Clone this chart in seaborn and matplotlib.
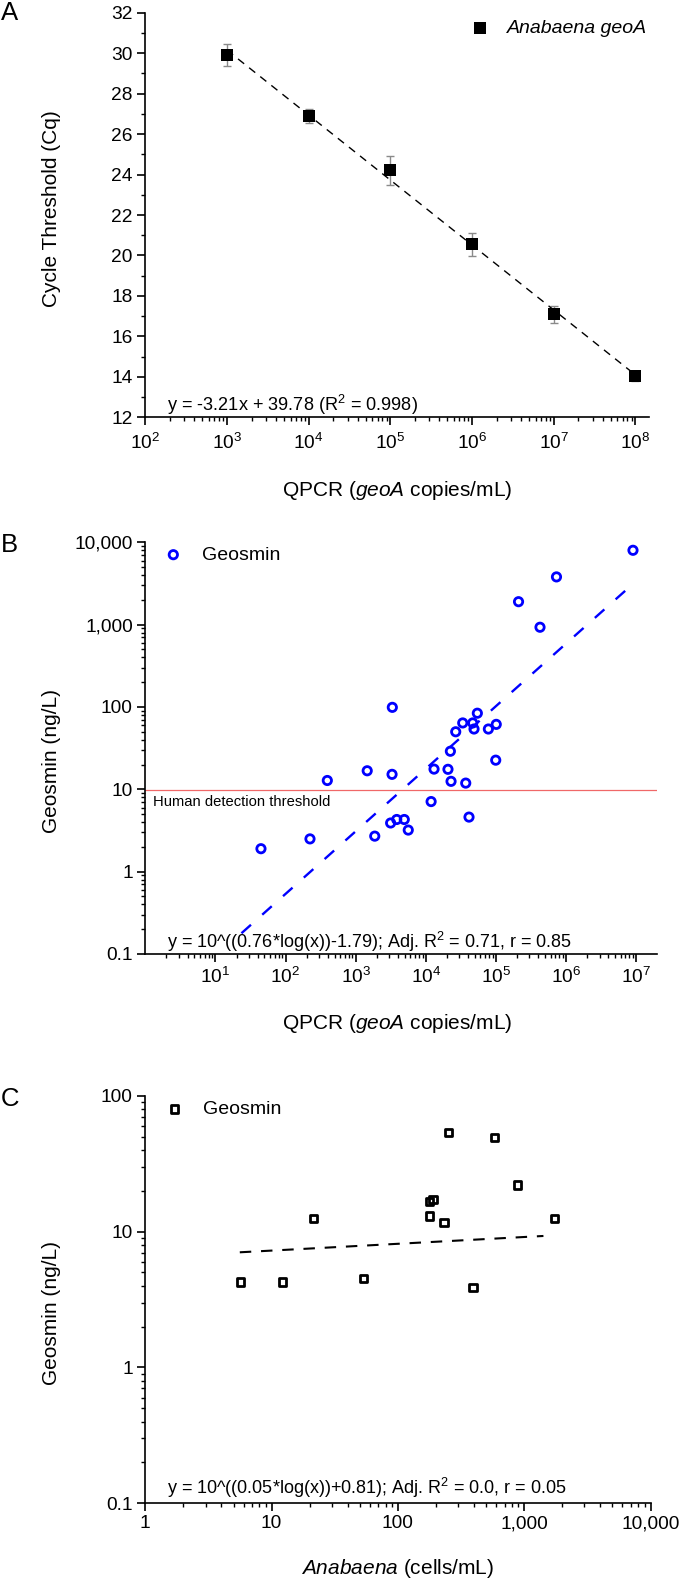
import numpy as np
import pandas as pd
import matplotlib
matplotlib.use("Agg")
import matplotlib.pyplot as plt
import matplotlib.ticker as mticker
import seaborn as sns

# ---------------- data ----------------
# Panel A: standard curve
a_copies = [1e3, 1e4, 1e5, 1e6, 1e7, 1e8]
a_cq = [29.9, 26.9, 24.2, 20.55, 17.1, 14.05]
a_err = [0.55, 0.35, 0.72, 0.58, 0.42, 0.25]
a_slope, a_intercept = -3.21, 39.78
a_fit_range = [1e3, 1e8]

# Panel B: geosmin vs qPCR geoA copies
b_qpcr = [9.0e6, 7.3e5, 2.1e5, 4.25e5, 3330, 394, 1460, 3300, 13100, 20700,
          22900, 37100, 22400, 26700, 33600, 46700, 48700, 54300, 78000, 101000,
          99300, 11900, 41300, 44.6, 223, 1870, 3150, 3850, 4930, 5620]
b_geosmin = [8000, 3800, 1900, 930, 99, 12.8, 16.8, 15.2, 17.6, 17.5,
             12.5, 11.9, 29, 50, 64, 64, 54, 84, 54, 61.5,
             22.6, 7.1, 4.6, 1.9, 2.5, 2.7, 3.9, 4.3, 4.3, 3.2]
b_slope, b_intercept = 0.76, -1.79
b_fit_range = [23.5, 7.5e6]
threshold = 9.7

# Panel C: geosmin vs Anabaena cell counts
c_cells = [5.7, 12.2, 21.5, 53.3, 177, 190, 177, 232, 251, 394, 585, 889, 1730]
c_geosmin = [4.26, 4.26, 12.5, 4.49, 16.6, 17.3, 13.0, 11.7, 53.5, 3.87, 49.4, 22.0, 12.5]
c_slope, c_intercept = 0.05, 0.81
c_fit_range = [5.6, 1420]

# ---------------- style ----------------
sns.set_theme(style="ticks")
plt.rcParams.update({
    "font.family": ["Liberation Sans", "DejaVu Sans"],
    "mathtext.fontset": "custom",
    "mathtext.rm": "Liberation Sans",
    "mathtext.it": "Liberation Sans:italic",
    "mathtext.bf": "Liberation Sans:bold",
    "axes.edgecolor": "black",
    "axes.linewidth": 1.2,
    "text.color": "black",
    "axes.labelcolor": "black",
    "xtick.color": "black",
    "ytick.color": "black",
})

W, H = 680, 1581
fig = plt.figure(figsize=(W / 100, H / 100), dpi=100)
fig.patch.set_facecolor("white")


def px_axes(left, top, right, bottom):
    return fig.add_axes([left / W, 1 - bottom / H, (right - left) / W, (bottom - top) / H])


def style(ax, xpad=4.0):
    sns.despine(ax=ax)
    ax.set_facecolor("white")
    for s in ["left", "bottom"]:
        ax.spines[s].set_linewidth(1.2)
        ax.spines[s].set_color("black")
    ax.tick_params(which="major", direction="out", length=5.5, width=1.2, labelsize=13.8)
    ax.tick_params(which="minor", direction="out", length=3.0, width=1.0)
    ax.tick_params(axis="y", which="major", pad=3.5)
    ax.tick_params(axis="x", which="major", pad=xpad)


def comma_fmt(v, pos):
    return f"{v:,.0f}" if v >= 1 else f"{v:g}"


def place_legend(ax, left_px, cy_px, pad, italic=False):
    prop = {"size": 14}
    if italic:
        prop["style"] = "italic"
    ax.legend(loc="center left", bbox_to_anchor=(left_px / W, 1 - cy_px / H),
              bbox_transform=fig.transFigure, frameon=False, borderpad=0,
              borderaxespad=0, handlelength=1.0, handletextpad=pad, prop=prop,
              scatterpoints=1)


# ---------------- Panel A ----------------
axA = px_axes(145.3, 12.7, 649.2, 417.3)
axA.set_xscale("log")
axA.errorbar(a_copies, a_cq, yerr=a_err, fmt="none", ecolor="#8a8a8a",
             elinewidth=1.0, capsize=3.2, capthick=1.0, zorder=2)
fa_x = np.array(a_fit_range)
fa_y = a_slope * np.log10(fa_x) + a_intercept
sns.lineplot(x=fa_x, y=fa_y, ax=axA, color="black", linewidth=1.0,
             linestyle=(0, (5.6, 4.6)), sort=False, zorder=3)
sns.scatterplot(x=a_copies, y=a_cq, ax=axA, marker="s", s=72, color="black",
                edgecolor="black", linewidth=0, label="Anabaena geoA", zorder=4)
axA.set_xlim(1e2, 10 ** 8.17)
axA.set_ylim(12, 32)
axA.xaxis.set_major_locator(mticker.LogLocator(base=10, numticks=20))
axA.xaxis.set_minor_locator(mticker.LogLocator(base=10, subs=np.arange(2, 10), numticks=100))
axA.xaxis.set_minor_formatter(mticker.NullFormatter())
axA.yaxis.set_major_locator(mticker.MultipleLocator(2))
axA.yaxis.set_minor_locator(mticker.MultipleLocator(1))
style(axA, xpad=6.0)
axA.set_xlabel("QPCR ($\\mathit{geoA}$ copies/mL)", fontsize=15)
axA.set_ylabel("Cycle Threshold (Cq)", fontsize=15)
axA.xaxis.set_label_coords(0.499, -0.153)
axA.yaxis.set_label_coords((61 - 145.3) / 503.9, (417.3 - 209) / 404.6)
axA.text(0.043, 0.0163, "y = -3.21x + 39.78 (R$^2$ = 0.998)", transform=axA.transAxes,
         fontsize=13.1, va="baseline", ha="left")
place_legend(axA, 470.3, 28, 0.89, italic=True)

# ---------------- Panel B ----------------
axB = px_axes(145.3, 542.3, 657, 954)
axB.set_xscale("log")
axB.set_yscale("log")
axB.axhline(threshold, color="#f06868", linewidth=0.9, zorder=1)
fb_x = np.array(b_fit_range)
fb_y = 10 ** (b_slope * np.log10(fb_x) + b_intercept)
sns.lineplot(x=fb_x, y=fb_y, ax=axB, color="#0000ff", linewidth=1.7,
             linestyle=(0, (5.4, 6.4)), sort=False, zorder=2)
sns.scatterplot(x=b_qpcr, y=b_geosmin, ax=axB, marker="o", s=36,
                facecolor="none", edgecolor="#0000ff", linewidth=2.0,
                label="Geosmin", zorder=3)
axB.set_xlim(1, 1.98e7)
axB.set_ylim(0.1, 1e4)
axB.xaxis.set_major_locator(mticker.FixedLocator([1e1, 1e2, 1e3, 1e4, 1e5, 1e6, 1e7]))
axB.xaxis.set_major_formatter(mticker.LogFormatterSciNotation())
axB.xaxis.set_minor_locator(mticker.LogLocator(base=10, subs=np.arange(2, 10), numticks=100))
axB.xaxis.set_minor_formatter(mticker.NullFormatter())
axB.yaxis.set_major_locator(mticker.FixedLocator([0.1, 1, 10, 100, 1000, 10000]))
axB.yaxis.set_major_formatter(mticker.FuncFormatter(comma_fmt))
axB.yaxis.set_minor_locator(mticker.LogLocator(base=10, subs=np.arange(2, 10), numticks=100))
axB.yaxis.set_minor_formatter(mticker.NullFormatter())
style(axB, xpad=3.5)
axB.set_xlabel("QPCR ($\\mathit{geoA}$ copies/mL)", fontsize=15)
axB.set_ylabel("Geosmin (ng/L)", fontsize=15)
axB.xaxis.set_label_coords(0.4915, -0.140)
axB.yaxis.set_label_coords((61 - 145.3) / 511.7, 0.4676)
axB.text(0.0156, 0.3595, "Human detection threshold", transform=axB.transAxes,
         fontsize=10.6, va="baseline", ha="left")
axB.text(0.0424, 0.0138, "y = 10^((0.76*log(x))-1.79); Adj. R$^2$ = 0.71, r = 0.85",
         transform=axB.transAxes, fontsize=13.0, va="baseline", ha="left")
place_legend(axB, 163.6, 555, 0.96)

# ---------------- Panel C ----------------
axC = px_axes(145.3, 1095.7, 650.5, 1503.3)
axC.set_xscale("log")
axC.set_yscale("log")
fc_x = np.array(c_fit_range)
fc_y = 10 ** (c_slope * np.log10(fc_x) + c_intercept)
sns.lineplot(x=fc_x, y=fc_y, ax=axC, color="black", linewidth=1.5,
             linestyle=(0, (5.5, 4.7)), sort=False, zorder=2)
sns.scatterplot(x=c_cells, y=c_geosmin, ax=axC, marker="s", s=28,
                facecolor="none", edgecolor="black", linewidth=2.0,
                label="Geosmin", zorder=3)
axC.set_xlim(1, 1e4)
axC.set_ylim(0.1, 100)
axC.xaxis.set_major_locator(mticker.FixedLocator([1, 10, 100, 1000, 10000]))
axC.xaxis.set_major_formatter(mticker.FuncFormatter(comma_fmt))
axC.xaxis.set_minor_locator(mticker.LogLocator(base=10, subs=np.arange(2, 10), numticks=100))
axC.xaxis.set_minor_formatter(mticker.NullFormatter())
axC.yaxis.set_major_locator(mticker.FixedLocator([0.1, 1, 10, 100]))
axC.yaxis.set_major_formatter(mticker.FuncFormatter(comma_fmt))
axC.yaxis.set_minor_locator(mticker.LogLocator(base=10, subs=np.arange(2, 10), numticks=100))
axC.yaxis.set_minor_formatter(mticker.NullFormatter())
style(axC, xpad=3.0)
axC.set_xlabel("$\\mathit{Anabaena}$ (cells/mL)", fontsize=15)
axC.xaxis.label.set_va("baseline")
axC.set_ylabel("Geosmin (ng/L)", fontsize=15)
axC.xaxis.set_label_coords(0.5, (1503.3 - 1574.5) / 407.6)
axC.yaxis.set_label_coords((61 - 145.3) / 505.2, 0.468)
axC.text(0.043, 0.0228, "y = 10^((0.05*log(x))+0.81); Adj. R$^2$ = 0.0, r = 0.05",
         transform=axC.transAxes, fontsize=13.0, va="baseline", ha="left")
place_legend(axC, 164.6, 1109.3, 0.99)

# ---------------- panel letters ----------------
fig.text(0.5 / W, 1 - 20 / H, "A", fontsize=18.5, va="baseline", ha="left")
fig.text(0.5 / W, 1 - 551.7 / H, "B", fontsize=18.5, va="baseline", ha="left")
fig.text(0.5 / W, 1 - 1106 / H, "C", fontsize=18.5, va="baseline", ha="left")

fig.savefig("out.png", dpi=100, facecolor="white")
